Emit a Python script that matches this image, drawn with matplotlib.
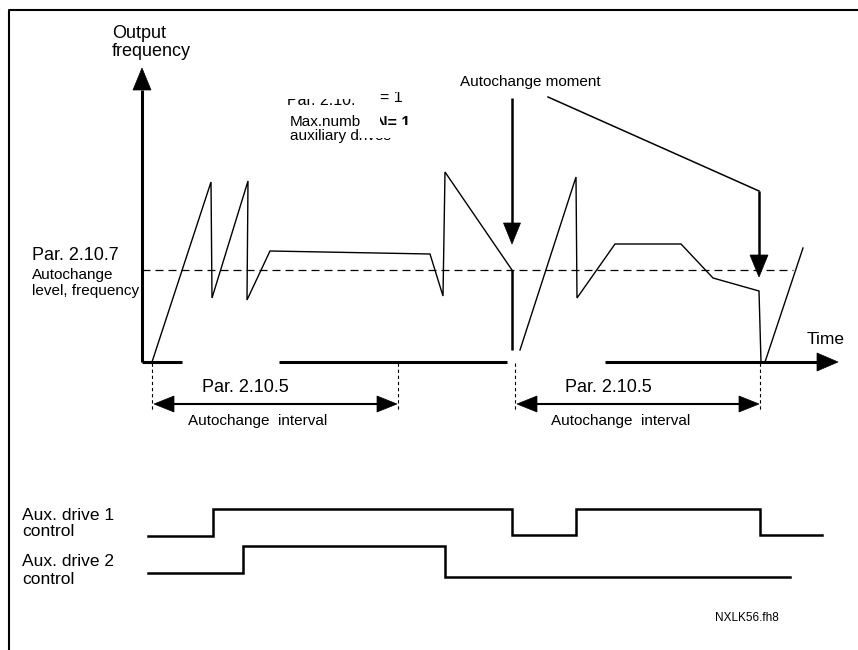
import matplotlib
matplotlib.use("Agg")
import matplotlib.pyplot as plt
from matplotlib.patches import Polygon, Rectangle

plt.rcParams['font.family'] = ['Liberation Sans', 'DejaVu Sans']

# ---------------- data (diagram coordinates, pixel space, y downwards) ----------------
# output frequency trace, part 1 (first drive until first autochange)
freq1_x = [152, 211, 212, 248, 247, 270, 430, 443, 445, 512]
freq1_y = [362, 182, 298, 181, 300, 251, 254, 296, 172, 270]
# sudden stop at first autochange moment
stop1_x = [512, 512]
stop1_y = [270, 350]
# trace part 2
freq2_x = [520, 576, 577, 615, 681, 713, 759, 761]
freq2_y = [350, 177, 298, 244, 244, 278, 291, 362]
# trace part 3 (restart)
freq3_x = [765, 803]
freq3_y = [362, 248]

level_y = 270                  # autochange level frequency
level_x = [142, 793]

baseline_y = 362
base_segments = [(142, 182), (279, 507), (605, 817)]
yaxis_x = 142
yaxis_top = 90

interval_marks = [(152, 398), (515, 760)]   # autochange intervals
interval_y = 404

moment1_x = 512
moment1_y = [98, 223]
moment2_x = [548, 759, 759]
moment2_y = [97, 191, 255]

aux1_x = [148, 213, 213, 512, 512, 576, 576, 760, 760, 822]
aux1_y = [536, 536, 509, 509, 535, 535, 509, 509, 535, 535]
aux2_x = [148, 243, 243, 445, 445, 790]
aux2_y = [573, 573, 546, 546, 577, 577]

# ---------------- figure ----------------
fig = plt.figure(figsize=(8.58, 6.5), dpi=100)
ax = fig.add_axes([0, 0, 1, 1])
ax.set_xlim(0, 858)
ax.set_ylim(650, 0)
ax.axis('off')

K = 'black'
FS_BIG = 13
FS_SMALL = 11


def tri(points, **kw):
    ax.add_patch(Polygon(points, closed=True, facecolor=K, edgecolor=K, lw=0.5, **kw))


# frame
ax.plot([9, 9, 858], [650, 10, 10], color=K, lw=1.5, solid_capstyle='butt')

# axes
ax.plot([yaxis_x, yaxis_x], [baseline_y, yaxis_top], color=K, lw=2.2, solid_capstyle='butt')
tri([(yaxis_x - 9, yaxis_top), (yaxis_x + 9, yaxis_top), (yaxis_x, 68)])
for x0, x1 in base_segments:
    ax.plot([x0, x1], [baseline_y, baseline_y], color=K, lw=2.2, solid_capstyle='butt')
tri([(817, baseline_y - 9), (817, baseline_y + 9), (838, baseline_y)])

# level line
ax.plot(level_x, [level_y, level_y], color=K, lw=0.9, linestyle=(0, (6.4, 4)))

# frequency trace
ax.plot(freq1_x, freq1_y, color=K, lw=1.0, solid_joinstyle='miter')
ax.plot(stop1_x, stop1_y, color=K, lw=1.8, solid_capstyle='butt')
ax.plot(freq2_x, freq2_y, color=K, lw=1.0, solid_joinstyle='miter')
ax.plot(freq3_x, freq3_y, color=K, lw=1.0)

# autochange moment arrows
ax.plot([moment1_x, moment1_x], moment1_y, color=K, lw=1.8, solid_capstyle='butt')
tri([(moment1_x - 8.5, moment1_y[1]), (moment1_x + 8.5, moment1_y[1]), (moment1_x, 244)])
ax.plot(moment2_x[:2], moment2_y[:2], color=K, lw=1.1)
ax.plot(moment2_x[1:], moment2_y[1:], color=K, lw=1.8, solid_capstyle='butt')
tri([(moment2_x[2] - 9, moment2_y[2]), (moment2_x[2] + 9, moment2_y[2]), (moment2_x[2], 277)])

# autochange intervals
for xa, xb in interval_marks:
    for xv in (xa, xb):
        ax.plot([xv, xv], [363, 410], color=K, lw=0.8, linestyle=(0, (3, 2.5)))
    ax.plot([xa + 18, xb - 18], [interval_y, interval_y], color=K, lw=1.5, solid_capstyle='butt')
    tri([(xa + 2, interval_y), (xa + 22, interval_y - 8), (xa + 22, interval_y + 8)])
    tri([(xb - 1, interval_y), (xb - 21, interval_y - 8), (xb - 21, interval_y + 8)])
    ax.text(xa + 50, 388, 'Par. 2.10.5', fontsize=FS_BIG, ha='left', va='center')
    ax.text(xa + 36, 421, 'Autochange  interval', fontsize=FS_SMALL, ha='left', va='center')

# aux drive signals
ax.plot(aux1_x, aux1_y, color=K, lw=1.8, solid_joinstyle='miter')
ax.plot(aux2_x, aux2_y, color=K, lw=1.8, solid_joinstyle='miter')

# texts
ax.text(112, 33, 'Output', fontsize=FS_BIG, ha='left', va='center')
ax.text(112, 52, 'frequency', fontsize=FS_BIG, ha='left', va='center')
ax.text(32, 255, 'Par. 2.10.7', fontsize=FS_BIG, ha='left', va='center')
ax.text(32, 275, 'Autochange', fontsize=FS_SMALL, ha='left', va='center')
ax.text(32, 291, 'level, frequency', fontsize=FS_SMALL, ha='left', va='center')
ax.text(460, 82, 'Autochange moment', fontsize=FS_SMALL, ha='left', va='center')
ax.text(807, 340, 'Time', fontsize=12.5, ha='left', va='center')
ax.text(22, 515, 'Aux. drive 1', fontsize=12.5, ha='left', va='center')
ax.text(22, 532, 'control', fontsize=12.5, ha='left', va='center')
ax.text(22, 562, 'Aux. drive 2', fontsize=12.5, ha='left', va='center')
ax.text(22, 579, 'control', fontsize=12.5, ha='left', va='center')
ax.text(715, 618, 'NXLK56.fh8', fontsize=8.5, ha='left', va='center')

# partially hidden parameter note
ax.text(287, 105, 'Par. 2.10.', fontsize=11.5, ha='left', va='baseline', zorder=3)
ax.text(380, 102, '= 1', fontsize=11.5, ha='left', va='baseline', zorder=3)
ax.text(290, 122, 'Max.numb', fontsize=11, ha='left', va='center', zorder=3)
ax.text(376, 123, 'N= 1', fontsize=11.5, fontweight='bold', ha='left', va='center', zorder=3)
ax.text(290, 136, 'auxiliary drives', fontsize=11, ha='left', va='center', zorder=3)
for rx, ry, rw, rh in [(280, 80, 90, 19), (376, 80, 40, 12), (363, 112, 17, 20),
                       (360, 125, 40, 13), (392, 125, 30, 20)]:
    ax.add_patch(Rectangle((rx, ry), rw, rh, facecolor='white', edgecolor='none', zorder=4))

fig.savefig('out.png', dpi=100)
